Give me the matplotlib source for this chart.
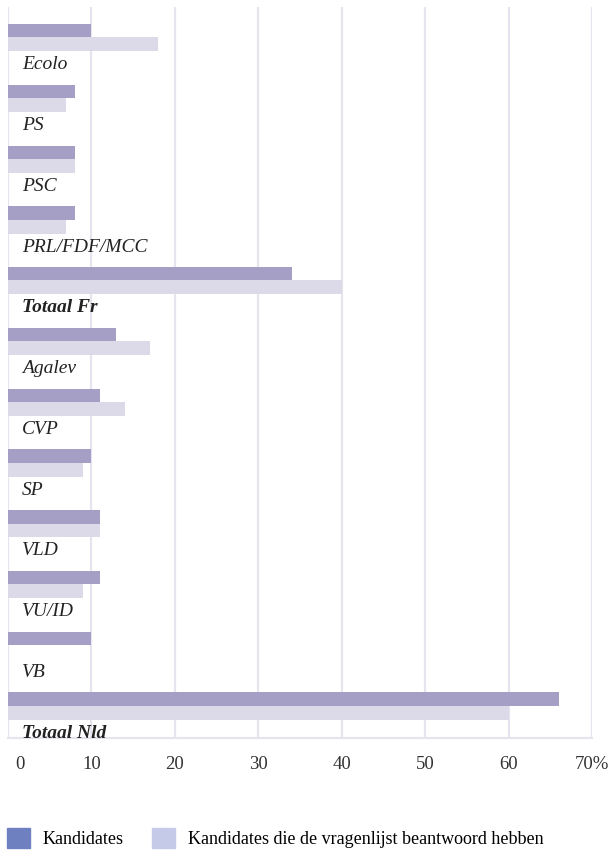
import matplotlib.pyplot as plt
from matplotlib.patches import Patch
from matplotlib.transforms import blended_transform_factory, ScaledTranslation

# Share of candidates per party (percent)
parties = ['Ecolo', 'PS', 'PSC', 'PRL/FDF/MCC', 'Totaal Fr',
           'Agalev', 'CVP', 'SP', 'VLD', 'VU/ID', 'VB', 'Totaal Nld']
kandidates = [10, 8, 8, 8, 34, 13, 11, 10, 11, 11, 10, 66]
beantwoord = [18, 7, 8, 7, 40, 17, 14, 9, 11, 9, 0, 60]
totals = ['Totaal Fr', 'Totaal Nld']
ticks = [0, 10, 20, 30, 40, 50, 60, 70]
tick_labels = ['0', '10', '20', '30', '40', '50', '60', '70%']

plt.rcParams['font.family'] = ['Liberation Serif', 'DejaVu Serif']

fig = plt.figure(figsize=(6.12, 8.5), dpi=100)
ax = fig.add_axes([8 / 612, 1 - 738 / 850, 584 / 612, 731 / 850])

pos = range(len(parties))
ax.barh([p + 0.39 for p in pos], kandidates, height=0.22, color='#a59ec5', zorder=2)
ax.barh([p + 0.615 for p in pos], beantwoord, height=0.23, color='#dcdae8', zorder=2)

trans = blended_transform_factory(ax.transAxes, ax.transData)
for p, name in zip(pos, parties):
    ax.text(0.024, p + 0.95, name, transform=trans, va='center', ha='left',
            fontsize=14, style='italic',
            weight='bold' if name in totals else 'normal', color='#222222')

ax.set_xlim(0, 70)
ax.set_ylim(12.03, 0)
ax.set_yticks([])
ax.set_xticks(ticks)
ax.set_xticklabels(tick_labels, fontsize=13.5, color='#333333')
ax.tick_params(axis='x', length=0, pad=13)
# the "0" label sits a little to the right of the axis
lbl0 = ax.get_xticklabels()[0]
lbl0.set_transform(lbl0.get_transform() + ScaledTranslation(0.12, 0, fig.dpi_scale_trans))
ax.grid(axis='x', color='#e6e4ee', linewidth=1.6, zorder=0)
ax.set_axisbelow(True)
for side in ['top', 'left', 'right']:
    ax.spines[side].set_visible(False)
ax.spines['bottom'].set_color('#e6e4ee')
ax.spines['bottom'].set_linewidth(1.6)

handles = [Patch(color='#6f80c0', label='Kandidates'),
           Patch(color='#c5cae9', label='Kandidates die de vragenlijst beantwoord hebben')]
fig.legend(handles=handles, loc='center left', bbox_to_anchor=(0.0, 1 - 838 / 850),
           ncol=2, frameon=False, fontsize=13, handlelength=1.28, handleheight=1.28,
           handletextpad=0.67, columnspacing=1.6, borderaxespad=0.0, borderpad=0.4)

fig.savefig('out.png', dpi=100)
